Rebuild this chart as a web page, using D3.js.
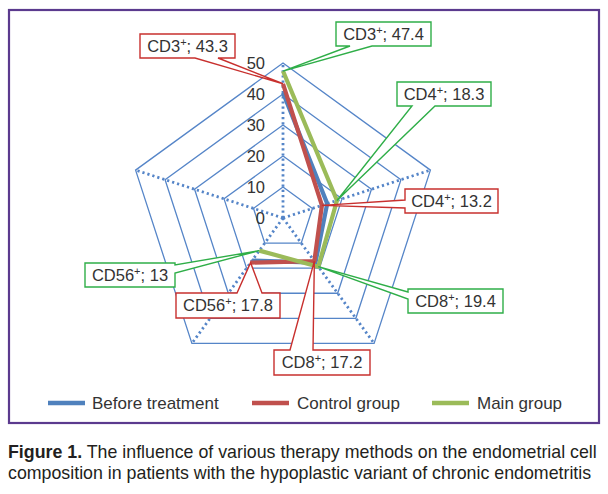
<!DOCTYPE html>
<html>
<head>
<meta charset="utf-8">
<script src="https://cdn.jsdelivr.net/npm/d3@7/dist/d3.min.js"></script>
<style>
  html, body { margin: 0; padding: 0; background: #fff; }
  svg { display: block; font-family: "Liberation Sans", Arial, sans-serif; }
</style>
</head>
<body>
<svg id="chart" width="608" height="494"></svg>
<script>
// ---- data ----
const categories = ["CD3", "CD4", "CD8", "CD56", ""];
const seriesNames = ["Before treatment", "Control group", "Main group"];
const beforeValues = [40.4, 15.0, 17.8, 17.0, null];
const controlValues = [43.3, 13.2, 17.2, 17.8, null];
const mainValues = [47.4, 18.3, 19.4, 13.0, null];
const tickValues = [0, 10, 20, 30, 40, 50];
const captionBold = "Figure 1.";
const captionLine1 = " The influence of various therapy methods on the endometrial cell";
const captionLine2 = "composition in patients with the hypoplastic variant of chronic endometritis";

// ---- layout / style ----
const colors = ["#4f81bd", "#c0504d", "#9bbb59"];
const calloutColors = { 1: "#c8302e", 2: "#2fae48" };
const gridColor = "#5585c8";
const cx = 283, cy = 218;

const svg = d3.select("#chart");
svg.append("rect").attr("width", 608).attr("height", 494).attr("fill", "#fff");

// frame
svg.append("rect").attr("x", 9).attr("y", 10).attr("width", 590).attr("height", 413)
  .attr("fill", "none").attr("stroke", "#5b3a8e").attr("stroke-width", 2.2);

const r = d3.scaleLinear().domain([0, 50]).range([0, 155]);
const n = categories.length;
const angle = i => -Math.PI / 2 + i * 2 * Math.PI / n;
const px = (i, v) => cx + r(v) * Math.cos(angle(i));
const py = (i, v) => cy + r(v) * Math.sin(angle(i));

const g = svg.append("g");

// rings
const ringLine = d3.line().x(d => px(d.i, d.v)).y(d => py(d.i, d.v)).curve(d3.curveLinearClosed);
tickValues.filter(t => t > 0).forEach(t => {
  g.append("path")
    .attr("d", ringLine(d3.range(n).map(i => ({ i, v: t }))))
    .attr("fill", "none").attr("stroke", gridColor).attr("stroke-width", 1.3);
});

// spokes (dotted)
d3.range(n).forEach(i => {
  g.append("line")
    .attr("x1", cx).attr("y1", cy)
    .attr("x2", px(i, r.domain()[1])).attr("y2", py(i, r.domain()[1]))
    .attr("stroke", gridColor).attr("stroke-width", 2.8)
    .attr("stroke-dasharray", "2.2,3");
});

// tick labels
g.selectAll(".tick").data(tickValues).join("text")
  .attr("x", 265).attr("y", d => cy - r(d)).attr("dy", "0.36em")
  .attr("text-anchor", "end").attr("font-size", 16.5).attr("fill", "#333")
  .text(d => d);

// series
const allSeries = [beforeValues, controlValues, mainValues];
const seriesLine = d3.line()
  .defined(d => d.v != null)
  .x(d => px(d.i, d.v)).y(d => py(d.i, d.v));
allSeries.forEach((vals, s) => {
  g.append("path")
    .attr("d", seriesLine(vals.map((v, i) => ({ i, v }))))
    .attr("fill", "none").attr("stroke", colors[s]).attr("stroke-width", 4.2)
    .attr("stroke-linejoin", "round");
});

// callouts: series index, category index, box and wedge base on an edge
const callouts = [
  { s: 1, c: 0, box: [140, 34, 95, 24], edge: "bottom", base: [195, 218] },
  { s: 2, c: 0, box: [336, 22, 95, 24], edge: "bottom", base: [350, 372] },
  { s: 2, c: 1, box: [397, 82, 94, 24], edge: "bottom", base: [412, 435] },
  { s: 1, c: 1, box: [405, 189, 93, 24], edge: "left", base: [200, 208] },
  { s: 2, c: 2, box: [408, 289, 95, 24], edge: "left", base: [292, 299] },
  { s: 1, c: 2, box: [274, 350, 96, 25], edge: "top", base: [290, 313] },
  { s: 1, c: 3, box: [176, 293, 104, 25], edge: "top", base: [237, 262] },
  { s: 2, c: 3, box: [85, 263, 90, 24], edge: "right", base: [265, 273] }
];

function calloutPath(co, tx, ty) {
  const [x, y, w, h] = co.box;
  const x2 = x + w, y2 = y + h;
  const pts = [];
  const [a, b] = co.base;
  pts.push([x, y]);
  if (co.edge === "top") { pts.push([Math.min(a,b), y], [tx, ty], [Math.max(a,b), y]); }
  pts.push([x2, y]);
  if (co.edge === "right") { pts.push([x2, Math.min(a,b)], [tx, ty], [x2, Math.max(a,b)]); }
  pts.push([x2, y2]);
  if (co.edge === "bottom") { pts.push([Math.max(a,b), y2], [tx, ty], [Math.min(a,b), y2]); }
  pts.push([x, y2]);
  if (co.edge === "left") { pts.push([x, Math.max(a,b)], [tx, ty], [x, Math.min(a,b)]); }
  return "M" + pts.map(p => p.join(",")).join("L") + "Z";
}

const fmt = v => (Math.round(v * 10) / 10).toString();
callouts.forEach(co => {
  const v = allSeries[co.s][co.c];
  const tx = px(co.c, v), ty = py(co.c, v);
  const col = calloutColors[co.s];
  g.append("path").attr("d", calloutPath(co, tx, ty))
    .attr("fill", "#fff").attr("stroke", col).attr("stroke-width", 1.4)
    .attr("stroke-linejoin", "miter");
  const t = g.append("text")
    .attr("x", co.box[0] + co.box[2] / 2).attr("y", co.box[1] + co.box[3] / 2)
    .attr("dy", "0.36em").attr("text-anchor", "middle")
    .attr("font-size", 16.5).attr("fill", "#333");
  t.append("tspan").text(categories[co.c]);
  t.append("tspan").attr("font-size", 11).attr("dy", -6).text("+");
  t.append("tspan").attr("dy", 6).text("; " + fmt(v));
});

// legend
const legendItems = [
  { x: 48, tx: 92 },
  { x: 252, tx: 297 },
  { x: 432, tx: 477 }
];
legendItems.forEach((it, s) => {
  svg.append("line").attr("x1", it.x).attr("x2", it.x + 37).attr("y1", 403).attr("y2", 403)
    .attr("stroke", colors[s]).attr("stroke-width", 4.5);
  svg.append("text").attr("x", it.tx).attr("y", 409).attr("font-size", 17)
    .attr("fill", "#333").text(seriesNames[s]);
});

// caption
const cap1 = svg.append("text").attr("x", 8).attr("y", 458).attr("font-size", 17.8).attr("fill", "#231f20");
cap1.append("tspan").attr("font-weight", "bold").text(captionBold);
cap1.append("tspan").text(captionLine1);
svg.append("text").attr("x", 8).attr("y", 479).attr("font-size", 17.8).attr("fill", "#231f20")
  .text(captionLine2);
</script>
</body>
</html>
